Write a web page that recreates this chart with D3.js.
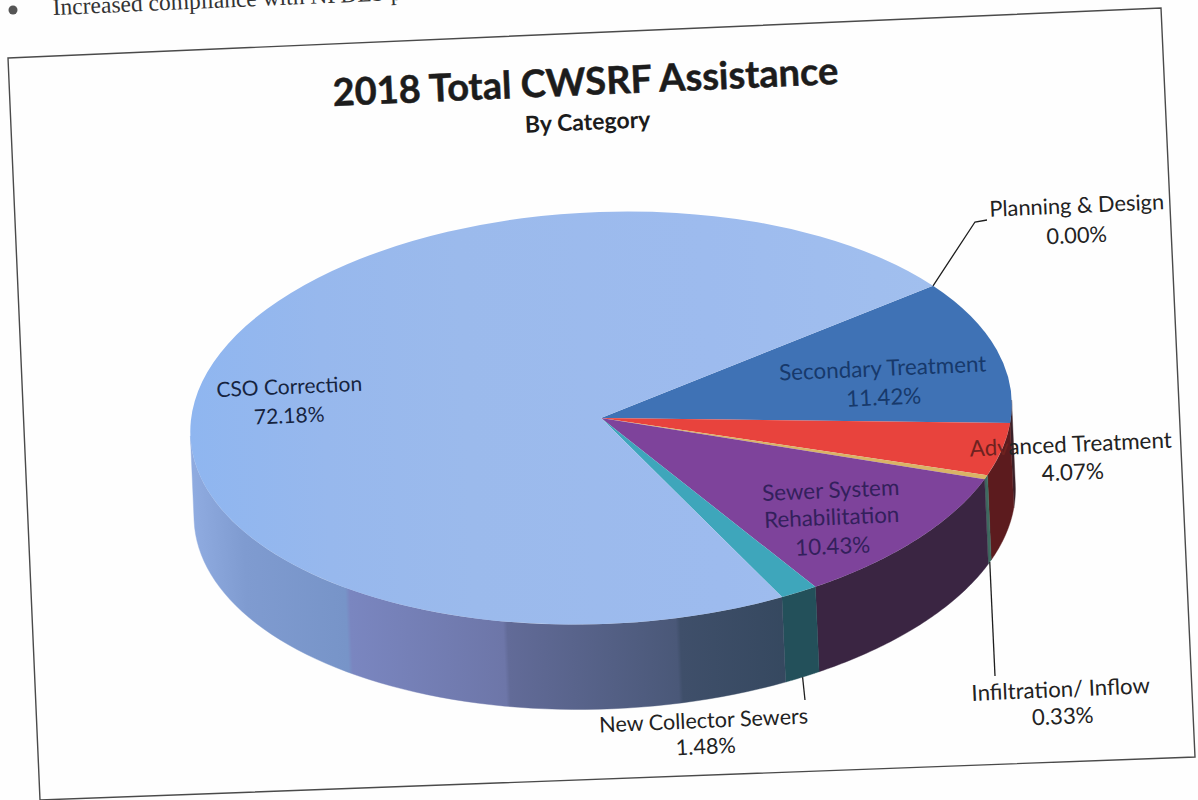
<!DOCTYPE html>
<html>
<head>
<meta charset="utf-8">
<script src="https://cdn.jsdelivr.net/npm/d3@7"></script>
<style>
  html, body { margin: 0; padding: 0; background: #fefefe; overflow: hidden; }
  svg { display: block; }
  text { font-family: Lato, "Open Sans", sans-serif; }
</style>
</head>
<body>
<svg id="chart" width="1198" height="800"></svg>
<script>
// Slices, clockwise from the Secondary Treatment edge
const categories = ["Secondary Treatment", "Advanced Treatment", "Infiltration/ Inflow",
  "Sewer System Rehabilitation", "New Collector Sewers", "CSO Correction", "Planning & Design"];
const shares = [11.42, 4.07, 0.33, 10.43, 1.48, 72.18, 0.00];
const topColors = ["#3f72b5", "#e8433d", "#d9b466", "#7e439b", "#3ea6bb", "url(#csoTop)", "#3f72b5"];
const wallColors = ["#3a2028", "#5c1b1e", "#3f6a60", "#3a2542", "#23505a", "url(#csoWall)", "#3a2028"];

const title = "2018 Total CWSRF Assistance";
const subtitle = "By Category";
const bodyLine = "Increased compliance with NPDES permit";

// Scanned page is slightly skewed; everything sits on this tilt
const tilt = -2.5;
const centre = { x: 601, y: 418 };
const radiusX = 411, radiusY = 206, depth = 85;
const startDeg = 55.2;

// Label placement: page position per text line
const labelLayout = {
  "CSO Correction": { lines: ["CSO Correction"], at: [[289.5, 394], [289.5, 423]], fill: "#16243f", size: 21 },
  "Planning & Design": { lines: ["Planning & Design"], at: [[1077, 213], [1077, 243]], fill: "#222", size: 21.8 },
  "Secondary Treatment": { lines: ["Secondary Treatment"], at: [[883, 376], [884, 405]], fill: "#17396b", size: 22.4 },
  "Advanced Treatment": { lines: ["Advanced Treatment"], at: [[1071, 452], [1073, 480]], fill: "#222", size: 22.4, leadChars: 3, leadFill: "#6e2220" },
  "Sewer System Rehabilitation": { lines: ["Sewer System", "Rehabilitation"], at: [[831, 498], [832, 525], [833, 554]], fill: "#33205c", size: 22.4 },
  "Infiltration/ Inflow": { lines: ["Infiltration/ Inflow"], at: [[1061, 697], [1063, 724]], fill: "#222", size: 22.2 },
  "New Collector Sewers": { lines: ["New Collector Sewers"], at: [[704, 728], [706, 754]], fill: "#222", size: 21.6 }
};

// Leader lines run from a slice edge to an elbow near the label
const leaders = [
  { name: "Planning & Design", onWall: false, via: [[975, 222], [987, 220]] },
  { name: "Infiltration/ Inflow", onWall: true, via: [[995, 676]] },
  { name: "New Collector Sewers", onWall: true, via: [[805, 700]] }
];

const svg = d3.select("#chart");
const defs = svg.append("defs");

function addGradient(id, units, x1, x2, stops) {
  const g = defs.append("linearGradient").attr("id", id).attr("gradientUnits", units)
    .attr("x1", x1).attr("x2", x2).attr("y1", 0).attr("y2", 0);
  stops.forEach(([o, c]) => g.append("stop").attr("offset", o).attr("stop-color", c));
}
addGradient("csoTop", "objectBoundingBox", 0, 1, [
  [0, "#8fb6f0"], [0.18, "#97b8ed"], [0.37, "#9bbaec"], [0.7, "#9dbbee"], [1, "#a1bfee"]
]);
addGradient("csoWall", "userSpaceOnUse", -radiusX, radiusX, [
  [0, "#8fabe0"], [0.06, "#7f9bd0"], [0.18, "#7794c8"], [0.185, "#7a86c0"], [0.37, "#6d76a8"],
  [0.375, "#626b98"], [0.58, "#4a5878"], [0.585, "#3f4f6a"], [0.72, "#35485f"], [0.76, "#2f4a5e"]
]);

const pie = d3.pie().sort(null).value(d => d)
  .startAngle(startDeg * Math.PI / 180)
  .endAngle((startDeg + 360) * Math.PI / 180);
const slices = pie(shares).map((s, i) => ({ ...s, name: categories[i], i }));

// Point on the rim, in the pie's tilted frame
const rim = (angle, drop = 0) => [radiusX * Math.sin(angle), -radiusY * Math.cos(angle) + drop];
const rad = Math.PI / 180;
const toPage = ([x, y]) => {
  const c = Math.cos(tilt * rad), s = Math.sin(tilt * rad);
  return [centre.x + x * c - y * s, centre.y + x * s + y * c];
};

const pieGroup = svg.append("g")
  .attr("transform", `translate(${centre.x},${centre.y}) rotate(${tilt})`);

// Front-facing wall: only the part of each slice between 3 and 9 o'clock shows
const frontFrom = Math.PI / 2, frontTo = Math.PI * 3 / 2;
function wallPath(a0, a1) {
  const steps = d3.range(0, 61).map(k => a0 + (a1 - a0) * k / 60);
  const upper = steps.map(a => rim(a));
  const lower = steps.slice().reverse().map(a => rim(a, depth));
  return d3.line()(upper.concat(lower)) + "Z";
}
const walls = slices.map(s => {
  const lo = Math.max(s.startAngle, frontFrom), hi = Math.min(s.endAngle, frontTo);
  return { ...s, lo, hi };
}).filter(s => s.hi > s.lo);

pieGroup.append("g").selectAll("path").data(walls).join("path")
  .attr("d", d => wallPath(d.lo, d.hi))
  .attr("fill", d => wallColors[d.i])
  .attr("stroke", d => wallColors[d.i])
  .attr("stroke-width", 0.4);

// Top face
const arc = d3.arc().innerRadius(0).outerRadius(1);
pieGroup.append("g").attr("transform", `scale(${radiusX},${radiusY})`)
  .selectAll("path").data(slices.filter(s => s.value > 0)).join("path")
  .attr("d", arc)
  .attr("fill", d => topColors[d.i]);

// Outer frame of the chart, skewed along with the scan
const framePts = [[8, 58], [1161, 8], [1195, 757], [40, 800]];
svg.append("path").attr("d", d3.line()(framePts) + "Z")
  .attr("fill", "none").attr("stroke", "#4a4a4a").attr("stroke-width", 1.4);

// Cropped line of body text above the frame
svg.append("text").attr("transform", `translate(53,15) rotate(${tilt})`)
  .style("font-family", '"Liberation Serif", serif').style("font-size", "23.5px")
  .attr("fill", "#333").text(bodyLine);
svg.append("circle").attr("cx", 13).attr("cy", 10).attr("r", 4.5).attr("fill", "#555");

// Titles
svg.append("text").attr("transform", `translate(586,95) rotate(${tilt})`)
  .attr("text-anchor", "middle").attr("font-weight", 700).attr("font-size", 38)
  .attr("fill", "#1c1c1c").attr("stroke", "#1c1c1c").attr("stroke-width", 0.5).text(title);
svg.append("text").attr("transform", `translate(588,130) rotate(${tilt})`)
  .attr("text-anchor", "middle").attr("font-weight", 700).attr("font-size", 23)
  .attr("fill", "#1c1c1c").text(subtitle);

// Leader lines
const bySlice = new Map(slices.map(s => [s.name, s]));
leaders.forEach(l => {
  const s = bySlice.get(l.name);
  const mid = (s.startAngle + s.endAngle) / 2;
  const from = toPage(rim(mid, l.onWall ? depth : 0));
  svg.append("path").attr("d", d3.line()([from, ...l.via]))
    .attr("fill", "none").attr("stroke", "#1e1e1e").attr("stroke-width", 1.3);
});

// Category labels with their percentages
const pct = d3.format(".2f");
slices.forEach(s => {
  const spec = labelLayout[s.name];
  const rows = [...spec.lines, pct(s.value) + "%"];
  rows.forEach((row, r) => {
    const [x, y] = spec.at[r];
    const t = svg.append("text").attr("transform", `translate(${x},${y}) rotate(${tilt})`)
      .attr("text-anchor", "middle").attr("font-size", spec.size)
      .attr("fill", spec.fill);
    if (r === 0 && spec.leadChars) {
      // The first letters overlap the red slice and take on its tone
      t.append("tspan").attr("fill", spec.leadFill).text(row.slice(0, spec.leadChars));
      t.append("tspan").text(row.slice(spec.leadChars));
    } else {
      t.text(row);
    }
  });
});
</script>
</body>
</html>
